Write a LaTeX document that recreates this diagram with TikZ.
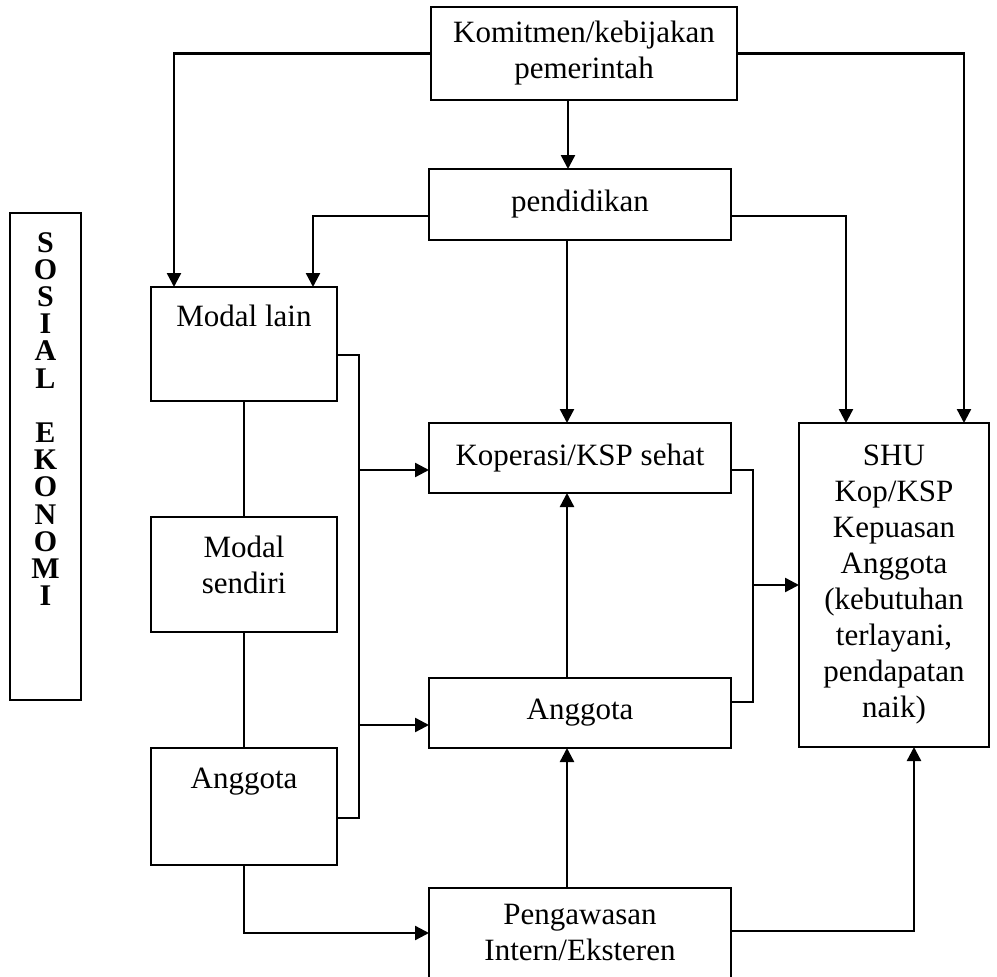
\documentclass[tikz,border=0pt]{standalone}
\usepackage{fontspec}
\setmainfont{Liberation Serif}
\usetikzlibrary{positioning,arrows.meta}

\begin{document}
\begin{tikzpicture}[
  x=1pt,y=-1pt,
  font=\fontsize{31}{36}\selectfont,
  >={Triangle[length=14pt,width=14pt]},
  box/.style={draw,line width=2.6pt,inner sep=0pt,outer sep=0pt,align=center},
  mid/.style={box,minimum width=302pt,minimum height=70pt},
  side/.style={box,minimum width=186pt,minimum height=115pt},
  link/.style={line width=2.4pt},
  flow/.style={->,line width=2.4pt},
]
\useasboundingbox (0,0) rectangle (997,977);
\clip (0,0) rectangle (997,977);

% --- top: kebijakan + pendidikan ---
\node[box,minimum width=306pt,minimum height=93pt] (komit) at (584,53.5) {Komitmen/kebijakan\\pemerintah};
\node[mid,below=69pt of komit,xshift=-4pt,minimum height=71pt] (pend) {pendidikan};

% --- middle column ---
\node[mid,below=183pt of pend] (kop) {Koperasi/KSP sehat};
\node[mid,below=185pt of kop] (angM) {Anggota};
\node[mid,below=140pt of angM,minimum height=124pt] (peng) {Pengawasan\\Intern/Eksteren\\\mbox{}};

% --- left column (modal) ---
\node[side,minimum height=114pt] (modlain) at (244,344) {Modal lain\\[21pt]\mbox{}};
\node[side,below=116pt of modlain] (modsen) {Modal\\sendiri\\[-16pt]\mbox{}};
\node[side,below=116pt of modsen,minimum height=117pt] (angL) {Anggota\\[21pt]\mbox{}};

% --- right: hasil ---
\node[box,minimum width=190pt,minimum height=324pt,right=68pt of kop.north east,anchor=north west] (shu)
  {SHU\\Kop/KSP\\Kepuasan\\Anggota\\(kebutuhan\\terlayani,\\pendapatan\\naik)};

% --- sosial ekonomi bar ---
\node[box,line width=2.6pt,minimum width=71pt,minimum height=487pt] (sebox) at (45.5,456.5) {};
\node[font=\fontsize{30}{27.2}\selectfont\bfseries,align=center,inner sep=0pt,below=19pt of sebox.north] (setext)
  {S\\O\\S\\I\\A\\L\\[27.2pt]E\\K\\O\\N\\O\\M\\I};

% --- arrows from the top ---
\draw[flow] (komit.west) -| ([xshift=-70pt]modlain.north);
\draw[flow] (komit.east) -| ([xshift=70pt]shu.north);
\draw[flow] ([xshift=-16pt]komit.south) -- ([xshift=-12pt]pend.north);
\draw[flow] ([yshift=-11.5pt]pend.west) -| ([xshift=69pt]modlain.north);
\draw[flow] ([yshift=-11.5pt]pend.east) -| ([xshift=-48pt]shu.north);
\draw[flow] ([xshift=-13pt]pend.south) -- ([xshift=-13pt]kop.north);

% --- left bracket ---
\draw[link] (modlain) -- (modsen) -- (angL);
\draw[link] ([yshift=-11pt]modlain.east) -- ++(22pt,0) coordinate (brk) |- ([yshift=-11.5pt]angL.east);
\coordinate (kopin) at ([yshift=-12pt]kop.west);
\coordinate (angMin) at ([yshift=-12pt]angM.west);
\draw[flow] (brk |- kopin) -- (kopin);
\draw[flow] (brk |- angMin) -- (angMin);

% --- right bracket ---
\draw[link] ([yshift=-12pt]kop.east) -- ++(22pt,0) coordinate (rbrk) |- ([yshift=11pt]angM.east);
\draw[flow] (rbrk |- shu.west) -- (shu.west);

% --- upward arrows ---
\draw[flow] ([xshift=-13pt]angM.north) -- ([xshift=-13pt]kop.south);
\draw[flow] ([xshift=-13pt]peng.north) -- ([xshift=-13pt]angM.south);

% --- pengawasan ---
\draw[flow] (angL.south) |- ([yshift=17pt]peng.west);
\draw[flow] ([yshift=19pt]peng.east) -| ([xshift=20pt]shu.south);

\end{tikzpicture}
\end{document}
